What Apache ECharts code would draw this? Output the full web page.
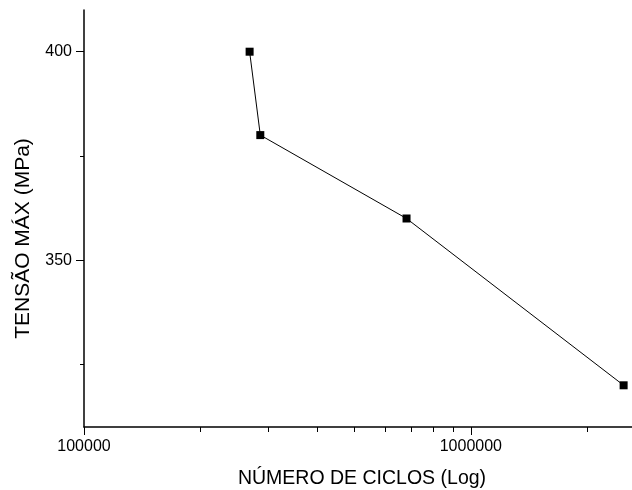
<!DOCTYPE html>
<html>
<head>
<meta charset="utf-8">
<script src="https://cdn.jsdelivr.net/npm/echarts@6/dist/echarts.min.js"></script>
<style>
  html, body { margin: 0; padding: 0; background: #fff; }
  #chart { width: 632px; height: 490px; }
</style>
</head>
<body>
<div id="chart"></div>
<script>
// ciclos (log) x tensão máxima
const ciclos = [268000, 285600, 682000, 2483000];
const tensao = [400, 380, 360, 320];

const xMinorTicks = [200000, 300000, 400000, 500000, 600000, 700000, 800000, 900000, 2000000];
const xMajorTicks = [100000, 1000000];
const yMinorTicks = [325, 375];
const yMajorTicks = [350, 400];

const font = 'Liberation Sans, Arial, sans-serif';

const chart = echarts.init(document.getElementById('chart'), null, { renderer: 'canvas' });

const points = ciclos.map((c, i) => [c, tensao[i]]);

const xBase = { type: 'log', logBase: 10, min: 100000, max: 2610000, splitLine: { show: false } };
const yBase = { type: 'value', min: 310, max: 410, splitLine: { show: false } };

chart.setOption({
  backgroundColor: '#ffffff',
  animation: false,
  grid: { left: 84, right: 0, top: 10, bottom: 63, containLabel: false, outerBoundsMode: 'none' },
  xAxis: [{
    ...xBase,
    name: 'NÚMERO DE CICLOS (Log)',
    nameLocation: 'middle',
    nameGap: 42,
    nameTextStyle: { color: '#000', fontFamily: font, fontSize: 19.5, padding: [0, 0, 0, 8] },
    axisLine: { onZero: false, lineStyle: { color: '#000', width: 1.5 } },
    axisTick: { show: true, length: 8, customValues: xMajorTicks, lineStyle: { color: '#000', width: 1 } },
    axisLabel: {
      customValues: xMajorTicks,
      margin: 12,
      color: '#000',
      fontFamily: font,
      fontSize: 16,
      formatter: v => String(Math.round(v))
    }
  }, {
    // minor ticks only
    ...xBase,
    position: 'bottom',
    axisLine: { show: false, onZero: false },
    axisTick: { show: true, length: 5, customValues: xMinorTicks, lineStyle: { color: '#000', width: 1 } },
    axisLabel: { show: false }
  }],
  yAxis: [{
    ...yBase,
    name: 'TENSÃO MÁX (MPa)',
    nameLocation: 'middle',
    nameGap: 50,
    nameTextStyle: { color: '#000', fontFamily: font, fontSize: 21, padding: [0, 40, 0, 0] },
    axisLine: { show: true, onZero: false, lineStyle: { color: '#000', width: 1.5 } },
    axisTick: { show: true, length: 8, customValues: yMajorTicks, lineStyle: { color: '#000', width: 1 } },
    axisLabel: {
      customValues: yMajorTicks,
      margin: 12,
      color: '#000',
      fontFamily: font,
      fontSize: 16
    }
  }, {
    // minor ticks only
    ...yBase,
    position: 'left',
    axisLine: { show: false, onZero: false },
    axisTick: { show: true, length: 4, customValues: yMinorTicks, lineStyle: { color: '#000', width: 1 } },
    axisLabel: { show: false }
  }],
  series: [{
    type: 'line',
    xAxisIndex: 0,
    yAxisIndex: 0,
    data: points,
    symbol: 'rect',
    symbolSize: 8,
    itemStyle: { color: '#000' },
    lineStyle: { color: '#000', width: 1 }
  }]
});
</script>
</body>
</html>
